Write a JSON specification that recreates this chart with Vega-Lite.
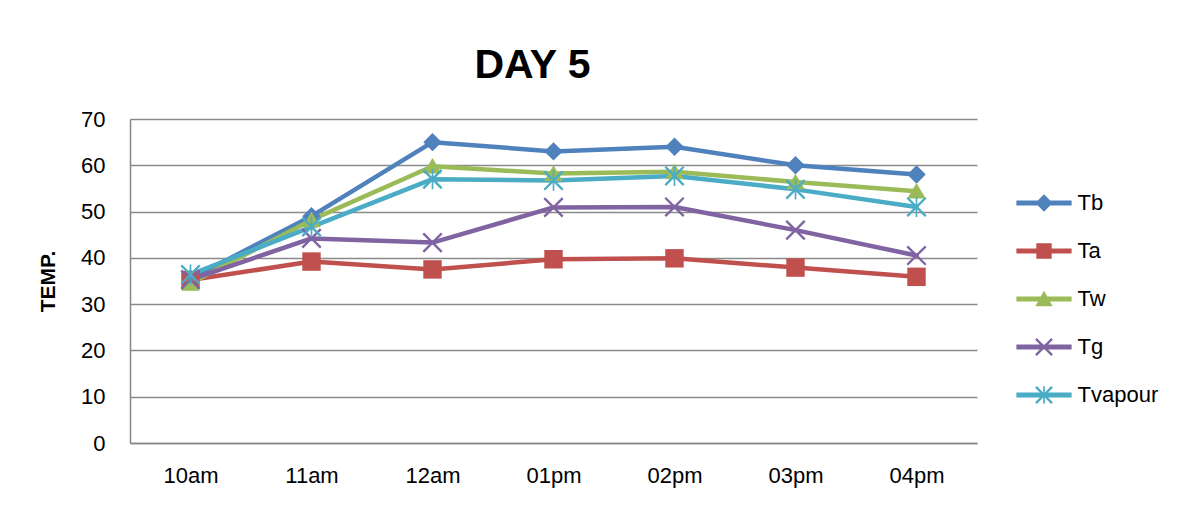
{
  "$schema": "https://vega.github.io/schema/vega-lite/v6.json",
  "autosize": "none",
  "width": 847,
  "height": 324,
  "padding": {"left": 130, "top": 119, "right": 211, "bottom": 66},
  "background": "white",
  "title": {
    "text": "DAY 5",
    "font": "Liberation Sans",
    "fontSize": 41,
    "fontWeight": "bold",
    "color": "#000000",
    "anchor": "middle",
    "baseline": "alphabetic",
    "dx": -21,
    "offset": -11
  },
  "data": {
    "values": [
      {"time": "10am", "series": "Tb", "value": 35.5},
      {"time": "11am", "series": "Tb", "value": 49.0},
      {"time": "12am", "series": "Tb", "value": 65.0},
      {"time": "01pm", "series": "Tb", "value": 63.0},
      {"time": "02pm", "series": "Tb", "value": 64.0},
      {"time": "03pm", "series": "Tb", "value": 60.0},
      {"time": "04pm", "series": "Tb", "value": 58.0},
      {"time": "10am", "series": "Ta", "value": 35.2},
      {"time": "11am", "series": "Ta", "value": 39.2},
      {"time": "12am", "series": "Ta", "value": 37.5},
      {"time": "01pm", "series": "Ta", "value": 39.7},
      {"time": "02pm", "series": "Ta", "value": 39.9},
      {"time": "03pm", "series": "Ta", "value": 37.9},
      {"time": "04pm", "series": "Ta", "value": 35.9},
      {"time": "10am", "series": "Tw", "value": 34.5},
      {"time": "11am", "series": "Tw", "value": 48.2},
      {"time": "12am", "series": "Tw", "value": 59.8},
      {"time": "01pm", "series": "Tw", "value": 58.2},
      {"time": "02pm", "series": "Tw", "value": 58.6},
      {"time": "03pm", "series": "Tw", "value": 56.4},
      {"time": "04pm", "series": "Tw", "value": 54.4},
      {"time": "10am", "series": "Tg", "value": 35.3},
      {"time": "11am", "series": "Tg", "value": 44.2},
      {"time": "12am", "series": "Tg", "value": 43.3},
      {"time": "01pm", "series": "Tg", "value": 50.9},
      {"time": "02pm", "series": "Tg", "value": 51.0},
      {"time": "03pm", "series": "Tg", "value": 46.0},
      {"time": "04pm", "series": "Tg", "value": 40.5},
      {"time": "10am", "series": "Tvapour", "value": 36.4},
      {"time": "11am", "series": "Tvapour", "value": 46.7},
      {"time": "12am", "series": "Tvapour", "value": 57.0},
      {"time": "01pm", "series": "Tvapour", "value": 56.7},
      {"time": "02pm", "series": "Tvapour", "value": 57.7},
      {"time": "03pm", "series": "Tvapour", "value": 54.8},
      {"time": "04pm", "series": "Tvapour", "value": 51.0}
    ]
  },
  "encoding": {
    "x": {
      "field": "time",
      "type": "nominal",
      "sort": null,
      "scale": {"type": "point", "padding": 0.5, "domain": ["10am", "11am", "12am", "01pm", "02pm", "03pm", "04pm"]},
      "axis": {"title": null, "labelAngle": 0, "grid": false, "ticks": false, "tickSize": 0, "labelPadding": 22}
    },
    "y": {
      "field": "value",
      "type": "quantitative",
      "scale": {"domain": [0, 70], "nice": false, "zero": true},
      "axis": {"title": "TEMP.", "values": [0, 10, 20, 30, 40, 50, 60, 70], "grid": true, "ticks": false, "tickSize": 0, "labelPadding": 25, "titlePadding": 22, "titleFontSize": 21, "titleFontWeight": "bold"}
    }
  },
  "layer": [
    {
      "mark": {"type": "line", "strokeWidth": 4.5, "strokeJoin": "round", "strokeCap": "round"},
      "encoding": {
        "color": {"field": "series", "type": "nominal", "scale": {"domain": ["Tb", "Ta", "Tw", "Tg", "Tvapour"], "range": ["#4F81BD", "#C0504D", "#9BBB59", "#8064A2", "#4BACC6"]}, "legend": null}
      }
    },
    {
      "mark": {"type": "point", "filled": true, "opacity": 1, "size": 340},
      "encoding": {
        "color": {"field": "series", "type": "nominal", "scale": {"domain": ["Tb", "Ta", "Tw", "Tg", "Tvapour"], "range": ["#4F81BD", "#C0504D", "#9BBB59", "#8064A2", "#4BACC6"]}, "legend": null},
        "shape": {"field": "series", "type": "nominal", "scale": {"domain": ["Tb", "Ta", "Tw", "Tg", "Tvapour"], "range": [
          "diamond",
          "square",
          "M0,-0.9L1,0.8H-1Z",
          "M-0.91,-1.09L1.09,0.91L0.91,1.09L-1.09,-0.91Z M1.09,-0.91L-0.91,1.09L-1.09,0.91L0.91,-1.09Z",
          "M-0.91,-1.09L1.09,0.91L0.91,1.09L-1.09,-0.91Z M1.09,-0.91L-0.91,1.09L-1.09,0.91L0.91,-1.09Z M-0.09,-1.1H0.09V1.1H-0.09Z"
        ]}, "legend": null}
      }
    },
    {
      "transform": [{"filter": "datum.series == 'none'"}],
      "mark": {"type": "point", "filled": true, "opacity": 1},
      "encoding": {
        "color": {"field": "series", "type": "nominal", "scale": {"domain": ["Tb", "Ta", "Tw", "Tg", "Tvapour"], "range": ["#4F81BD", "#C0504D", "#9BBB59", "#8064A2", "#4BACC6"]}, "legend": {"title": null}},
        "shape": {"field": "series", "type": "nominal", "scale": {"domain": ["Tb", "Ta", "Tw", "Tg", "Tvapour"], "range": [
          "M-1.15,-0.1H1.15V0.1H-1.15Z M0,-0.36L0.36,0L0,0.36L-0.36,0Z",
          "M-1.15,-0.1H1.15V0.1H-1.15Z M-0.32,-0.32H0.32V0.32H-0.32Z",
          "M-1.15,-0.1H1.15V0.1H-1.15Z M0,-0.34L0.36,0.3H-0.36Z",
          "M-1.15,-0.1H1.15V0.1H-1.15Z M-0.3,-0.37L0.37,0.3L0.3,0.37L-0.37,-0.3Z M0.37,-0.3L-0.3,0.37L-0.37,0.3L0.3,-0.37Z",
          "M-1.15,-0.1H1.15V0.1H-1.15Z M-0.3,-0.37L0.37,0.3L0.3,0.37L-0.37,-0.3Z M0.37,-0.3L-0.3,0.37L-0.37,0.3L0.3,-0.37Z M-0.035,-0.36H0.035V0.36H-0.035Z"
        ]}, "legend": {"title": null}}
      }
    }
  ],
  "resolve": {"scale": {"color": "independent", "shape": "independent"}},
  "config": {
    "view": {"stroke": null},
    "font": "Liberation Sans",
    "axis": {
      "labelFont": "Liberation Sans",
      "labelFontSize": 22,
      "labelColor": "#000000",
      "titleFont": "Liberation Sans",
      "titleColor": "#000000",
      "domainColor": "#868686",
      "domainWidth": 1.5,
      "gridColor": "#8a8a8a",
      "gridWidth": 1.5,
      "gridOpacity": 1
    },
    "legend": {
      "orient": "none",
      "legendX": 890,
      "legendY": 60,
      "padding": 0,
      "rowPadding": 13,
      "symbolSize": 2304,
      "symbolStrokeWidth": 0,
      "symbolOpacity": 1,
      "labelFont": "Liberation Sans",
      "labelFontSize": 22,
      "labelColor": "#000000",
      "labelOffset": 9.5,
      "labelLimit": 300
    }
  }
}
